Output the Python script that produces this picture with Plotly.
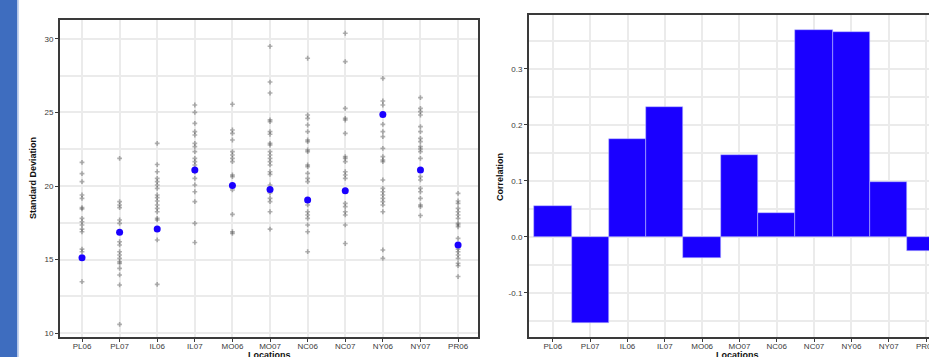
import plotly.graph_objects as go

W, H = 929, 357

locations = ["PL06", "PL07", "IL06", "IL07", "MO06", "MO07", "NC06", "NC07", "NY06", "NY07", "PR06"]

# individual standard deviations (grey points), per location
sd_PL06 = [21.61, 20.84, 20.30, 19.39, 19.16, 18.53, 18.44, 17.80, 17.57, 17.35, 17.07, 16.89, 15.71, 15.53, 13.49]
sd_PL07 = [21.88, 18.94, 18.71, 18.53, 17.69, 17.46, 16.21, 15.99, 15.53, 15.31, 15.08, 14.85, 14.74, 14.40, 13.95, 13.27, 10.59]
sd_IL06 = [22.90, 21.46, 20.97, 20.52, 20.30, 20.07, 19.84, 19.39, 19.21, 18.98, 18.71, 18.48, 18.25, 17.80, 17.69, 16.33, 13.31]
sd_IL07 = [25.51, 25.01, 24.26, 23.70, 23.47, 22.90, 22.68, 22.34, 21.88, 21.66, 21.43, 20.97, 20.52, 20.07, 19.61, 18.94, 17.46, 16.16]
sd_MO06 = [25.56, 23.81, 23.58, 23.13, 22.34, 22.11, 21.88, 21.66, 20.75, 20.64, 19.73, 18.07, 16.89, 16.78]
sd_MO07 = [29.50, 27.07, 26.32, 24.50, 24.38, 23.70, 23.52, 22.90, 22.79, 22.34, 22.11, 21.88, 21.66, 21.43, 20.97, 20.79, 20.07, 19.52, 19.16, 18.94, 18.25, 17.07]
sd_NC06 = [28.69, 24.83, 24.60, 24.15, 23.70, 23.13, 23.02, 22.45, 22.34, 21.43, 21.32, 20.86, 20.52, 20.30, 18.71, 18.25, 18.03, 17.80, 17.35, 16.89, 15.53]
sd_NC07 = [30.39, 28.46, 25.28, 24.60, 24.49, 23.58, 22.00, 21.88, 21.66, 20.97, 20.75, 20.52, 18.82, 18.60, 18.25, 18.03, 17.35, 16.09]
sd_NY06 = [27.32, 25.78, 25.51, 24.19, 23.70, 23.36, 22.56, 22.00, 21.77, 21.66, 20.41, 19.84, 19.61, 19.39, 19.16, 18.94, 18.71, 18.25, 15.65, 15.08]
sd_NY07 = [26.01, 25.28, 25.06, 24.83, 24.04, 23.70, 23.24, 23.02, 22.68, 22.52, 22.34, 21.88, 20.64, 20.41, 19.84, 19.61, 19.16, 18.71, 18.60, 17.99]
sd_PR06 = [19.50, 18.98, 18.82, 18.48, 18.25, 18.03, 17.80, 17.46, 17.35, 17.23, 16.44, 15.71, 15.53, 15.31, 15.08, 14.74, 14.58, 13.84]

# blue points (overall value per location)
sd_overall = [15.12, 16.85, 17.07, 21.09, 20.03, 19.77, 19.05, 19.68, 24.86, 21.09, 15.99]

# correlation per location (bars)
correlation = [0.055, -0.154, 0.1745, 0.2316, -0.0387, 0.146, 0.0417, 0.370, 0.365, 0.0982, -0.025]

sd_lists = [sd_PL06, sd_PL07, sd_IL06, sd_IL07, sd_MO06, sd_MO07, sd_NC06, sd_NC07, sd_NY06, sd_NY07, sd_PR06]
pts_x, pts_y = [], []
for loc, vals in zip(locations, sd_lists):
    pts_x += [loc] * len(vals)
    pts_y += vals

BLUE = "rgb(26,0,255)"
FRAME = "#3a3a3a"
GRID = "#ebebeb"
TICKFONT = dict(family="Liberation Sans, Arial, sans-serif", size=8, color="#3a3a3a")
TITLEFONT = dict(family="Liberation Sans, Arial, sans-serif", size=9, color="#111111")

fig = go.Figure()
fig.add_trace(go.Scatter(x=pts_x, y=pts_y, mode="markers", xaxis="x", yaxis="y",
                         marker=dict(symbol="cross", size=4, color="rgba(60,60,60,0.4)"),
                         showlegend=False, hoverinfo="skip"))
fig.add_trace(go.Scatter(x=locations, y=sd_overall, mode="markers", xaxis="x", yaxis="y",
                         marker=dict(symbol="circle", size=7, color=BLUE),
                         showlegend=False))
fig.add_trace(go.Bar(x=locations, y=correlation, xaxis="x2", yaxis="y2",
                     marker=dict(color=BLUE, line=dict(width=0.6, color="rgba(190,190,255,0.9)")),
                     showlegend=False))

def px_x(p):
    return p / W

def px_y(p):
    return (H - p) / H

common_x = dict(type="category", categoryorder="array", categoryarray=locations,
                showgrid=True, gridcolor=GRID, gridwidth=1.5, zeroline=False,
                showline=True, linecolor=FRAME, linewidth=2, mirror=True,
                ticks="outside", ticklen=3, tickcolor=FRAME, tickwidth=1,
                ticklabelstandoff=-3,
                tickfont=TICKFONT, automargin=False)

fig.update_layout(
    width=W, height=H,
    margin=dict(l=0, r=0, t=0, b=0),
    paper_bgcolor="white", plot_bgcolor="white",
    bargap=0,
    xaxis=dict(common_x, domain=[px_x(60), px_x(478)], range=[-0.585, 10.53], anchor="y"),
    yaxis=dict(domain=[px_y(337), px_y(20)], range=[9.73, 31.29], anchor="x",
               tickvals=[10, 15, 20, 25, 30], showgrid=True, gridcolor=GRID, gridwidth=1.5,
               minor=dict(showgrid=True, dtick=2.5, tick0=0, gridcolor=GRID, gridwidth=1.5),
               zeroline=False, showline=True, linecolor=FRAME, linewidth=2, mirror=True,
               ticks="outside", ticklen=3, tickcolor=FRAME, tickfont=TICKFONT, automargin=False),
    xaxis2=dict(common_x, domain=[px_x(529), 1.0], range=[-0.64, 10.08], anchor="y2"),
    yaxis2=dict(domain=[px_y(337), px_y(15)], range=[-0.179, 0.396], anchor="x2",
                tickvals=[-0.1, 0.0, 0.1, 0.2, 0.3], ticktext=["-0.1", "0.0", "0.1", "0.2", "0.3"],
                showgrid=True, gridcolor=GRID, gridwidth=1.5,
                minor=dict(showgrid=True, dtick=0.05, tick0=0, gridcolor=GRID, gridwidth=1.5),
                zeroline=False, showline=True, linecolor=FRAME, linewidth=2, mirror=False,
                ticks="outside", ticklen=3, tickcolor=FRAME, tickfont=TICKFONT, automargin=False),
)

# left decorative strip
fig.add_shape(type="rect", xref="paper", yref="paper", x0=0, x1=px_x(17.5), y0=0, y1=1,
              fillcolor="#3e6dbf", line=dict(width=0), layer="below")
fig.add_shape(type="rect", xref="paper", yref="paper", x0=px_x(17.5), x1=px_x(19), y0=0, y1=1,
              fillcolor="#c8d6ef", line=dict(width=0), layer="below")

# axis titles
fig.add_annotation(text="<b>Standard Deviation</b>", xref="paper", yref="paper",
                   x=px_x(33), y=px_y(178), textangle=-90, showarrow=False,
                   xanchor="center", yanchor="middle", font=TITLEFONT)
fig.add_annotation(text="<b>Correlation</b>", xref="paper", yref="paper",
                   x=px_x(500), y=px_y(177), textangle=-90, showarrow=False,
                   xanchor="center", yanchor="middle", font=TITLEFONT)
fig.add_annotation(text="<b>Locations</b>", xref="paper", yref="paper",
                   x=px_x(269), y=px_y(348), showarrow=False,
                   xanchor="center", yanchor="top", font=TITLEFONT)
fig.add_annotation(text="<b>Locations</b>", xref="paper", yref="paper",
                   x=px_x(737), y=px_y(348), showarrow=False,
                   xanchor="center", yanchor="top", font=TITLEFONT)

fig.write_html("out.html", config={"displayModeBar": False},
               post_script="document.body.style.margin='0';document.body.style.overflow='hidden';")
